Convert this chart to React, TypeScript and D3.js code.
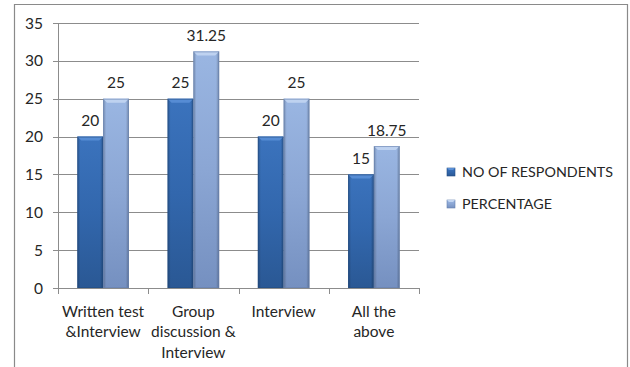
import React from "react";
import * as d3 from "d3";

const categories: string[][] = [
  ["Written test", "&Interview"],
  ["Group", "discussion &", "Interview"],
  ["Interview"],
  ["All the", "above"],
];
const seriesNames = ["NO OF RESPONDENTS", "PERCENTAGE"];
const respondents = [20, 25, 20, 15];
const percentage = [25, 31.25, 25, 18.75];
const yTicks = [0, 5, 10, 15, 20, 25, 30, 35];

const W = 630;
const H = 367;
const FONT = "Lato, 'Open Sans', sans-serif";

const plot = { left: 58, right: 419, top: 23, bottom: 288 };

const seriesStyle = [
  { id: "dark", top: "#3b73bd", mid: "#3267ad", bot: "#2a5894", edge: "#234c82", bevel: "#5a8fd6" },
  { id: "light", top: "#9ab6e2", mid: "#8ba6d4", bot: "#7590c0", edge: "#6580ae", bevel: "#c2d5f2" },
];

export default function App() {
  const y = d3.scaleLinear().domain([0, 35]).range([plot.bottom, plot.top]);
  const x0 = d3
    .scaleBand<number>()
    .domain(categories.map((_, i) => i))
    .range([plot.left, plot.right]);
  const bw = x0.bandwidth();
  const barW = bw / 3.5;
  const x1 = d3
    .scaleBand<number>()
    .domain([0, 1])
    .range([barW * 0.75, barW * 2.75]);

  const values = [respondents, percentage];

  return (
    <svg
      width={W}
      height={H}
      style={{ position: "absolute", left: 0, top: 0, background: "#fff" }}
      fontFamily={FONT}
    >
      <defs>
        {seriesStyle.map((s) => (
          <React.Fragment key={s.id}>
            <linearGradient id={`v-${s.id}`} x1="0" y1="0" x2="0" y2="1">
              <stop offset="0" stopColor={s.top} />
              <stop offset="0.5" stopColor={s.mid} />
              <stop offset="1" stopColor={s.bot} />
            </linearGradient>
            <linearGradient id={`h-${s.id}`} x1="0" y1="0" x2="1" y2="0">
              <stop offset="0" stopColor="#000" stopOpacity="0.22" />
              <stop offset="0.12" stopColor="#000" stopOpacity="0" />
              <stop offset="0.88" stopColor="#000" stopOpacity="0" />
              <stop offset="1" stopColor="#000" stopOpacity="0.25" />
            </linearGradient>
          </React.Fragment>
        ))}
      </defs>

      {/* outer frame */}
      <path d={`M14.5,${H} V4.5 H627.5 V${H}`} fill="none" stroke="#8a8a8a" strokeWidth={1.2} />

      {/* gridlines */}
      {yTicks.map((t) => (
        <line
          key={t}
          x1={plot.left}
          x2={plot.right}
          y1={Math.round(y(t)) + 0.5}
          y2={Math.round(y(t)) + 0.5}
          stroke="#8c8c8c"
          strokeWidth={1}
        />
      ))}

      {/* y axis */}
      <line x1={plot.left + 0.5} x2={plot.left + 0.5} y1={plot.top} y2={plot.bottom + 1} stroke="#8c8c8c" />
      {yTicks.map((t) => (
        <g key={t}>
          <line x1={plot.left - 5} x2={plot.left} y1={Math.round(y(t)) + 0.5} y2={Math.round(y(t)) + 0.5} stroke="#8c8c8c" />
          <text x={43} y={y(t)} dy="0.36em" textAnchor="end" fontSize={15.5} fill="#262626">
            {t}
          </text>
        </g>
      ))}

      {/* x axis ticks */}
      {categories.map((_, i) => (
        <line
          key={i}
          x1={Math.round(x0(i)!) + 0.5}
          x2={Math.round(x0(i)!) + 0.5}
          y1={plot.bottom}
          y2={plot.bottom + 6}
          stroke="#8c8c8c"
        />
      ))}
      <line x1={plot.right + 0.5} x2={plot.right + 0.5} y1={plot.bottom} y2={plot.bottom + 6} stroke="#8c8c8c" />

      {/* bars */}
      {categories.map((_, i) =>
        values.map((vals, s) => {
          const st = seriesStyle[s];
          const bx = x0(i)! + x1(s)!;
          const w = x1.bandwidth();
          const by = y(vals[i]);
          const bh = y(0) - by;
          const bev = 4;
          return (
            <g key={`${i}-${s}`}>
              <rect x={bx} y={by} width={w} height={bh} fill={`url(#v-${st.id})`} />
              <rect x={bx} y={by} width={w} height={bh} fill={`url(#h-${st.id})`} />
              <path
                d={`M${bx},${by} H${bx + w} L${bx + w - bev},${by + bev} H${bx + bev} Z`}
                fill={st.bevel}
                opacity={0.9}
              />
              <rect x={bx + 0.5} y={by + 0.5} width={w - 1} height={bh - 1} fill="none" stroke={st.edge} strokeOpacity={0.6} />
              <text
                x={bx + w / 2}
                y={by - 16}
                dy="0.36em"
                textAnchor="middle"
                fontSize={15.5}
                fill="#262626"
              >
                {vals[i]}
              </text>
            </g>
          );
        })
      )}

      {/* category labels */}
      {categories.map((lines, i) => (
        <text key={i} textAnchor="middle" fontSize={15.5} fill="#262626">
          {lines.map((ln, k) => (
            <tspan key={k} x={x0(i)! + bw / 2} y={311 + k * 20.5} dy="0.36em">
              {ln}
            </tspan>
          ))}
        </text>
      ))}

      {/* legend */}
      {seriesNames.map((name, s) => {
        const st = seriesStyle[s];
        const cy = 172 + s * 32;
        return (
          <g key={name}>
            <rect x={447} y={cy - 4} width={8} height={8} fill={`url(#v-${st.id})`} stroke={st.edge} strokeWidth={0.6} />
            <path d={`M447,${cy - 4} h8 l-2,2 h-4 Z`} fill={st.bevel} />
            <text x={462} y={cy} dy="0.36em" fontSize={14.3} fill="#262626">
              {name}
            </text>
          </g>
        );
      })}
    </svg>
  );
}
